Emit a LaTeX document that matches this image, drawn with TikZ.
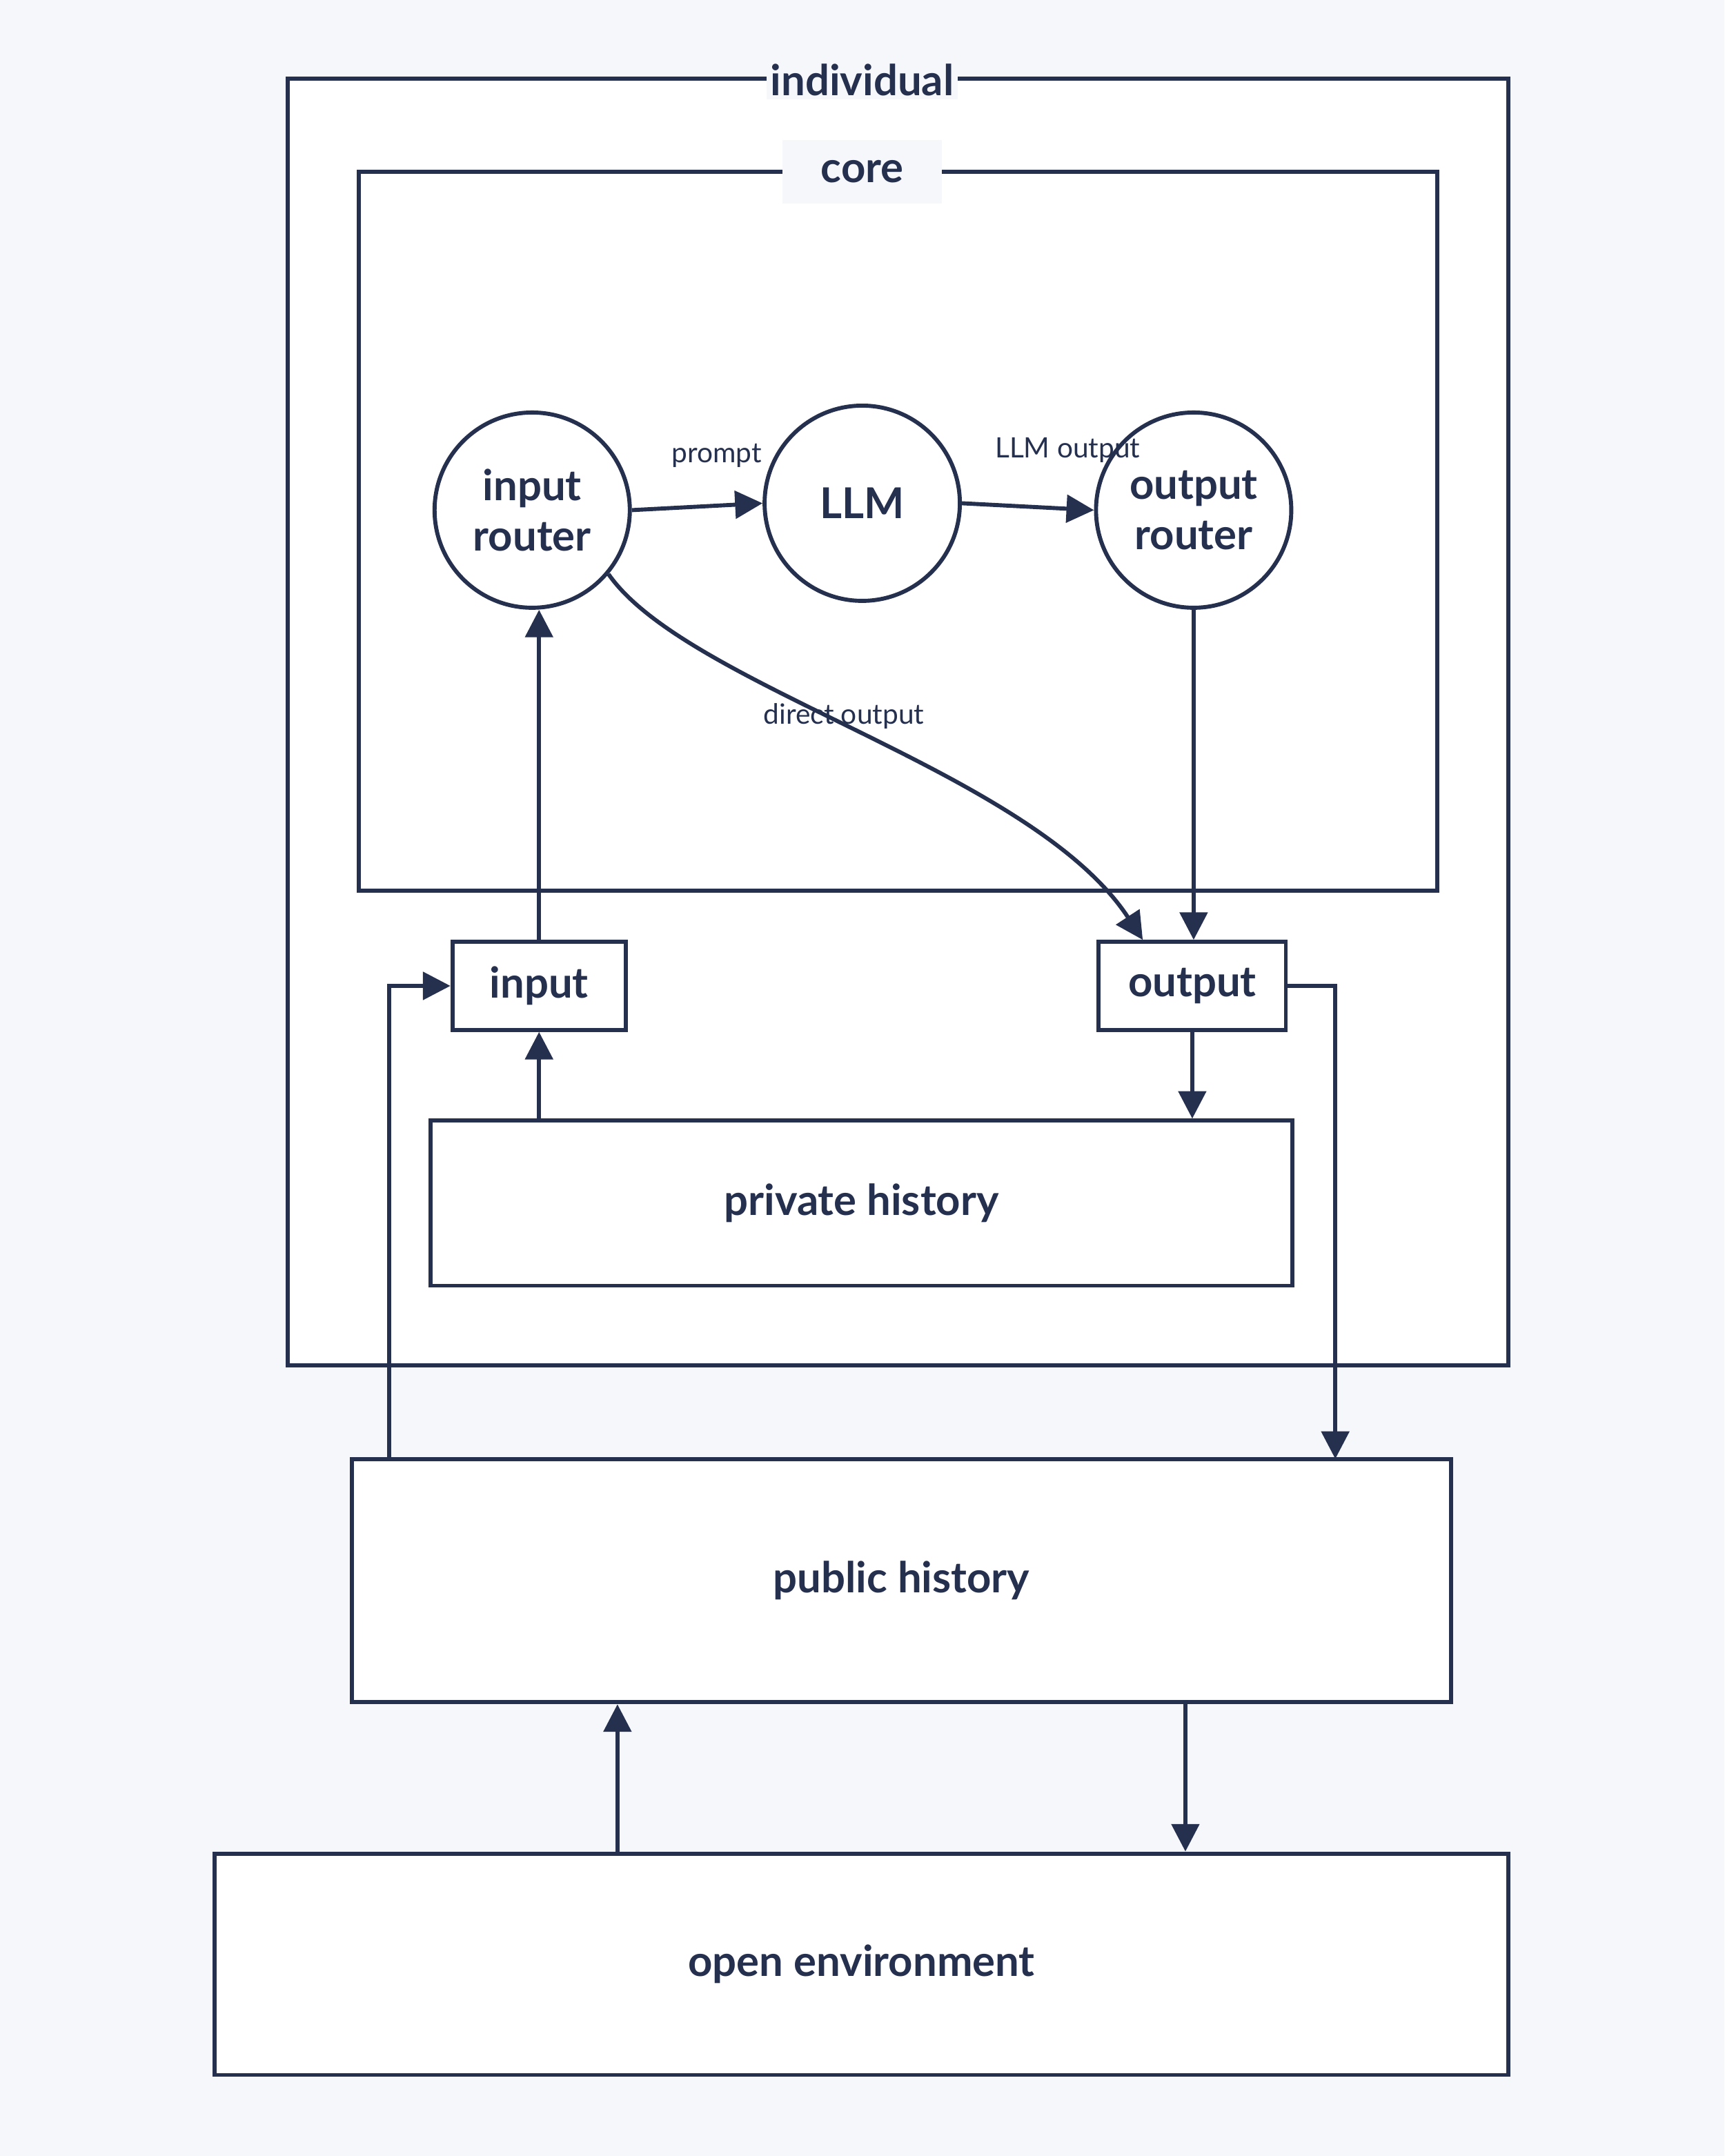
\documentclass[tikz,border=0pt]{standalone}
\usepackage{fontspec}
\setmainfont{Lato}
\usetikzlibrary{arrows.meta}
\definecolor{bg}{HTML}{F6F7FB}
\definecolor{ink}{HTML}{25304F}
\tikzset{
  box/.style={draw=ink,fill=white,line width=4.2pt,rectangle,inner sep=0pt,text=ink,font=\bfseries\fontsize{44}{52}\selectfont},
  circ/.style={draw=ink,fill=white,line width=4.2pt,circle,inner sep=0pt,minimum size=7.1cm,text=ink,align=center,font=\bfseries\fontsize{44}{52}\selectfont},
  conn/.style={draw=ink,line width=4.2pt,-{Triangle[length=1cm,width=1cm]}},
  lab/.style={text=ink,font=\fontsize{29}{34}\selectfont},
  ttl/.style={fill=bg,text=ink,font=\bfseries\fontsize{44}{52}\selectfont,inner sep=4pt},
}
\begin{document}
\begin{tikzpicture}[x=0.05cm,y=-0.05cm]
\useasboundingbox[fill=bg] (0,0) rectangle (1254,1568);
\node[box,minimum width=44.4cm,minimum height=46.8cm] (ind) at (653,525) {};
\node[ttl] (indl) at (627,58) {individual};
\node[box,minimum width=39.2cm,minimum height=26.15cm] (core) at (653,386.5) {};
\node[ttl,minimum width=5.8cm,minimum height=2.3cm] (corel) at (627,125) {core};
\node[circ] (ir) at (387,371) {input\\router};
\node[circ] (llm) at (627,366) {LLM};
\node[circ] (or) at (868,371) {output\\router};
\node[box,minimum width=6.3cm,minimum height=3.2cm] (inp) at (392,717) {input};
\node[box,minimum width=6.8cm,minimum height=3.2cm] (out) at (867,717) {output};
\node[box,minimum width=31.35cm,minimum height=6cm] (priv) at (626.5,875) {private history};
\node[box,minimum width=39.95cm,minimum height=8.85cm] (pub) at (655.5,1149.5) {public history};
\node[box,minimum width=47.05cm,minimum height=8.05cm] (env) at (626.5,1428.5) {open environment};
\coordinate (pubL) at (283,1061);
\coordinate (pubR) at (971,1061);
\coordinate (envU) at (449,1348);
\coordinate (pubD) at (862,1238);
\draw[conn] (ir.east) -- (llm.west) node[lab,pos=0.65,above=1.2cm] {prompt};
\draw[conn] (llm.east) -- (or.west) node[lab,pos=0.8,above=1.5cm] {LLM output};
\draw[conn] (inp.north) -- (inp.north |- ir.south);
\draw[conn] (inp.south |- priv.north) -- (inp.south);
\draw[conn] (out.south) -- (out.south |- priv.north);
\draw[conn] (or.south) -- (or.south |- out.north);
\draw[conn] (ir.-40) .. controls (500,500) and (750,560) .. ([xshift=-1.8cm]out.north) node[lab,pos=0.47,above=-0.3cm] {direct output};
\draw[conn] (pubL) |- (inp.west);
\draw[conn] (out.east) -| (pubR);
\draw[conn] (envU) -- (envU |- pub.south);
\draw[conn] (pubD) -- (pubD |- env.north);
\end{tikzpicture}
\end{document}
